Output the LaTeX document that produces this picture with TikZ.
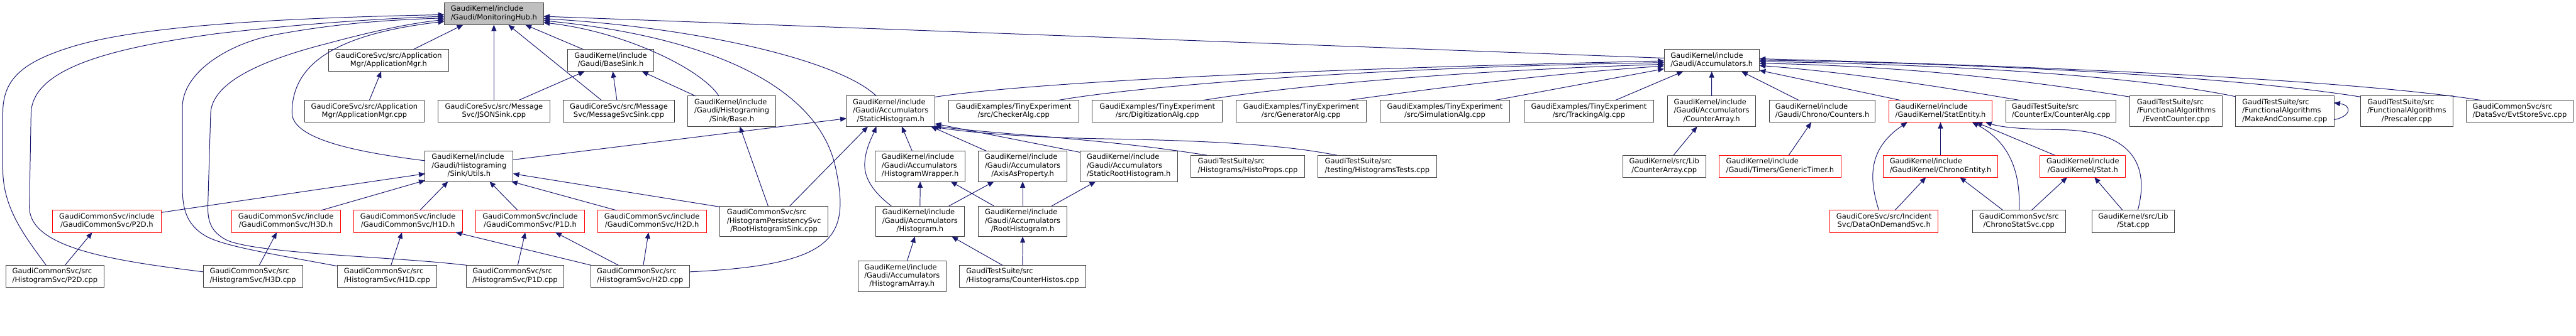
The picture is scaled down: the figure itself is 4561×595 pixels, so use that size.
\documentclass[tikz,border=0pt]{standalone}
\usepackage{fontspec}
\setmainfont{DejaVu Sans}
\usetikzlibrary{arrows.meta,calc}
\definecolor{edgecol}{HTML}{191970}
\definecolor{boxcol}{HTML}{404040}
\definecolor{rootfill}{HTML}{BFBFBF}
\definecolor{redcol}{HTML}{FF0000}
\newcommand\lab[2]{\begin{tabular}{@{}l@{}}#1\\\multicolumn{1}{@{}c@{}}{#2}\end{tabular}}
\tikzset{
 nbox/.style={draw=boxcol, line width=1.1pt, fill=white, inner sep=0pt, outer sep=0pt, font=\fontsize{12.8}{15}\selectfont, text=black},
 redbox/.style={nbox, draw=redcol},
 rootbox/.style={nbox, fill=rootfill},
 conn/.style={draw=edgecol, line width=1.1pt, -{Triangle[length=11pt,width=9pt]}},
}
\newcommand\nd[6]{\node[#1,minimum width=#4pt,minimum height=#5pt] (#2) at (#3) {#6};}
\begin{document}
\begin{tikzpicture}[x=1pt,y=-1pt]
\useasboundingbox (0,0) rectangle (4561,595);
% ---- nodes
\nd{rootbox}{root}{874.5,24.5}{175.6}{39}{\lab{GaudiKernel/include}{/Gaudi/MonitoringHub.h}}
\nd{nbox}{appmgrh}{688,107.2}{212.6}{39}{\lab{GaudiCoreSvc/src/Application}{Mgr/ApplicationMgr.h}}
\nd{nbox}{appmgrcpp}{645.2,197.3}{212.3}{39}{\lab{GaudiCoreSvc/src/Application}{Mgr/ApplicationMgr.cpp}}
\nd{nbox}{jsonsink}{874.5,197.3}{197.6}{39}{\lab{GaudiCoreSvc/src/Message}{Svc/JSONSink.cpp}}
\nd{nbox}{basesink}{1081.3,107.2}{152}{39}{\lab{GaudiKernel/include}{/Gaudi/BaseSink.h}}
\nd{nbox}{msgsink}{1095.7,197.3}{197.3}{39}{\lab{GaudiCoreSvc/src/Message}{Svc/MessageSvcSink.cpp}}
\nd{nbox}{utils}{830.5,294.8}{155.6}{54}{\lab{GaudiKernel/include\\/Gaudi/Histograming}{/Sink/Utils.h}}
\nd{nbox}{sinkbase}{1295.7,197.3}{155.3}{54}{\lab{GaudiKernel/include\\/Gaudi/Histograming}{/Sink/Base.h}}
\nd{nbox}{statichist}{1577,197.3}{156.6}{54}{\lab{GaudiKernel/include\\/Gaudi/Accumulators}{/StaticHistogram.h}}
\nd{redbox}{p2dh}{189.2,392.5}{193}{39}{\lab{GaudiCommonSvc/include}{/GaudiCommonSvc/P2D.h}}
\nd{redbox}{h3dh}{506.3,392.5}{192.7}{39}{\lab{GaudiCommonSvc/include}{/GaudiCommonSvc/H3D.h}}
\nd{redbox}{h1dh}{722.3,392.5}{192.7}{39}{\lab{GaudiCommonSvc/include}{/GaudiCommonSvc/H1D.h}}
\nd{redbox}{p1dh}{938.7,392.5}{192.7}{39}{\lab{GaudiCommonSvc/include}{/GaudiCommonSvc/P1D.h}}
\nd{redbox}{h2dh}{1154.3,392.5}{192.7}{39}{\lab{GaudiCommonSvc/include}{/GaudiCommonSvc/H2D.h}}
\nd{nbox}{p2dcpp}{97.3,489.8}{173.3}{39}{\lab{GaudiCommonSvc/src}{/HistogramSvc/P2D.cpp}}
\nd{nbox}{h3dcpp}{447.8,489.8}{175.7}{39}{\lab{GaudiCommonSvc/src}{/HistogramSvc/H3D.cpp}}
\nd{nbox}{h1dcpp}{685.3,489.8}{176}{39}{\lab{GaudiCommonSvc/src}{/HistogramSvc/H1D.cpp}}
\nd{nbox}{p1dcpp}{912,489.8}{173.4}{39}{\lab{GaudiCommonSvc/src}{/HistogramSvc/P1D.cpp}}
\nd{nbox}{h2dcpp}{1133.3,489.8}{175.3}{39}{\lab{GaudiCommonSvc/src}{/HistogramSvc/H2D.cpp}}
\nd{nbox}{rootsink}{1370.3,392.3}{191.3}{54}{\lab{GaudiCommonSvc/src\\/HistogramPersistencySvc}{/RootHistogramSink.cpp}}
\nd{nbox}{histarray}{1597.2,489.7}{156.3}{54}{\lab{GaudiKernel/include\\/Gaudi/Accumulators}{/HistogramArray.h}}
\nd{nbox}{checker}{1794.7,197.3}{230.7}{39}{\lab{GaudiExamples/TinyExperiment}{/src/CheckerAlg.cpp}}
\nd{nbox}{histwrapper}{1629.2,294.8}{159.7}{54}{\lab{GaudiKernel/include\\/Gaudi/Accumulators}{/HistogramWrapper.h}}
\nd{nbox}{axisprop}{1810.7,294.8}{156.7}{54}{\lab{GaudiKernel/include\\/Gaudi/Accumulators}{/AxisAsProperty.h}}
\nd{nbox}{histogram}{1629,392.3}{156.6}{54}{\lab{GaudiKernel/include\\/Gaudi/Accumulators}{/Histogram.h}}
\nd{nbox}{roothist}{1810.7,392.3}{156.7}{54}{\lab{GaudiKernel/include\\/Gaudi/Accumulators}{/RootHistogram.h}}
\nd{nbox}{counterhistos}{1810.5,489.8}{223.6}{39}{\lab{GaudiTestSuite/src}{/Histograms/CounterHistos.cpp}}
\nd{nbox}{staticroothist}{1998.5,294.8}{172.4}{54}{\lab{GaudiKernel/include\\/Gaudi/Accumulators}{/StaticRootHistogram.h}}
\nd{nbox}{histoprops}{2209.3,294.8}{202}{39}{\lab{GaudiTestSuite/src}{/Histograms/HistoProps.cpp}}
\nd{nbox}{digitization}{2049.2,197.3}{230.3}{39}{\lab{GaudiExamples/TinyExperiment}{/src/DigitizationAlg.cpp}}
\nd{nbox}{generator}{2303.7,197.3}{230.7}{39}{\lab{GaudiExamples/TinyExperiment}{/src/GeneratorAlg.cpp}}
\nd{nbox}{histtests}{2438.5,294.8}{209.6}{39}{\lab{GaudiTestSuite/src}{/testing/HistogramsTests.cpp}}
\nd{nbox}{simulation}{2558.3,197.3}{230}{39}{\lab{GaudiExamples/TinyExperiment}{/src/SimulationAlg.cpp}}
\nd{nbox}{tracking}{2813.2,197.3}{230.3}{39}{\lab{GaudiExamples/TinyExperiment}{/src/TrackingAlg.cpp}}
\nd{nbox}{accum}{3030.7,107.2}{168.7}{39}{\lab{GaudiKernel/include}{/Gaudi/Accumulators.h}}
\nd{nbox}{counterarrayh}{3030.5,197.3}{156.4}{54}{\lab{GaudiKernel/include\\/Gaudi/Accumulators}{/CounterArray.h}}
\nd{nbox}{counterarraycpp}{2946.7,294.8}{146.7}{39}{\lab{GaudiKernel/src/Lib}{/CounterArray.cpp}}
\nd{nbox}{counters}{3226.5,197.3}{187.6}{39}{\lab{GaudiKernel/include}{/Gaudi/Chrono/Counters.h}}
\nd{redbox}{generictimer}{3151.7,294.8}{216}{39}{\lab{GaudiKernel/include}{/Gaudi/Timers/GenericTimer.h}}
\nd{redbox}{statentity}{3435.8,197.3}{183}{39}{\lab{GaudiKernel/include}{/GaudiKernel/StatEntity.h}}
\nd{redbox}{chronoentity}{3435.8,294.8}{203}{39}{\lab{GaudiKernel/include}{/GaudiKernel/ChronoEntity.h}}
\nd{redbox}{dataondemand}{3335.8,392.5}{191.7}{39}{\lab{GaudiCoreSvc/src/Incident}{Svc/DataOnDemandSvc.h}}
\nd{nbox}{counteralg}{3649.3,197.3}{195.3}{39}{\lab{GaudiTestSuite/src}{/CounterEx/CounterAlg.cpp}}
\nd{nbox}{eventcounter}{3853.2,197.3}{163.7}{54}{\lab{GaudiTestSuite/src\\/FunctionalAlgorithms}{/EventCounter.cpp}}
\nd{redbox}{stath}{3687.8,294.8}{151.7}{39}{\lab{GaudiKernel/include}{/GaudiKernel/Stat.h}}
\nd{nbox}{chronostatsvc}{3574.7,392.5}{164.7}{39}{\lab{GaudiCommonSvc/src}{/ChronoStatSvc.cpp}}
\nd{nbox}{statcpp}{3777,392.5}{146.6}{39}{\lab{GaudiKernel/src/Lib}{/Stat.cpp}}
\nd{nbox}{makeconsume}{4045.3,197.3}{174}{54}{\lab{GaudiTestSuite/src\\/FunctionalAlgorithms}{/MakeAndConsume.cpp}}
\nd{nbox}{prescaler}{4261.3,197.3}{163.3}{54}{\lab{GaudiTestSuite/src\\/FunctionalAlgorithms}{/Prescaler.cpp}}
\nd{nbox}{evtstore}{4461.3,197.3}{188.7}{39}{\lab{GaudiCommonSvc/src}{/DataSvc/EvtStoreSvc.cpp}}
% ---- edges into MonitoringHub.h
\draw[conn] ($(appmgrh.north)+(43.7,0)$) -- ($(root.south)+(-54.5,0)$);
\draw[conn] (jsonsink.north) -- (root.south);
\draw[conn] ($(msgsink.north)+(-30.7,0)$) -- ($(root.south)+(25.5,0)$);
\draw[conn] ($(basesink.north)+(-48.3,0)$) -- ($(root.south)+(55.5,0)$);
\draw[conn] ($(sinkbase.north)+(-22.7,0)$) .. controls (1240,120) and (1100,55) .. ($(root.east)+(0,15.5)$);
\draw[conn] ($(statichist.north)+(-25.3,0)$) .. controls (1490,110) and (1250,50) .. ($(root.east)+(0,8.5)$);
\draw[conn] ($(accum.west)+(0,-4.2)$) -- ($(root.east)+(0,4.5)$);
\draw[conn] ($(h2dcpp.east)+(0,-7.8)$) .. controls (1480,470) and (1505,420) .. (1480,300) .. controls (1450,150) and (1250,65) .. ($(root.east)+(0,12)$);
\draw[conn] ($(p2dcpp.north)+(-15.6,0)$) .. controls (45,420) and (5,370) .. (5,300) -- (5,200) .. controls (5,140) and (40,110) .. (127,83) .. controls (250,45) and (500,32) .. ($(root.west)+(0,1.5)$);
\draw[conn] ($(h3dcpp.west)+(0,-7.8)$) .. controls (200,462) and (52,440) .. (52,367) -- (55,200) .. controls (58,120) and (200,85) .. (381,60) .. controls (550,40) and (700,32) .. ($(root.west)+(0,4.5)$);
\draw[conn] ($(h1dcpp.north west)+(0,1.5)$) .. controls (480,450) and (400,437) .. (367,420) .. controls (330,400) and (323,370) .. (323,333) -- (323,190) .. controls (323,130) and (400,80) .. (480,63) .. controls (600,40) and (700,35) .. ($(root.west)+(0,7.5)$);
\draw[conn] ($(p1dcpp.north west)+(1,0)$) .. controls (700,455) and (450,450) .. (400,425) .. controls (372,410) and (368,390) .. (368,367) -- (373,200) .. controls (376,150) and (450,110) .. (580,77) .. controls (650,58) and (720,42) .. ($(root.west)+(0,10.5)$);
\draw[conn] ($(utils.west)+(0,-9.8)$) .. controls (650,272) and (517,250) .. (517,200) .. controls (517,110) and (600,60) .. ($(root.west)+(0,13.5)$);
% ---- sinks
\draw[conn] ($(appmgrcpp.north)+(8.8,0)$) -- ($(appmgrh.south)+(-13,0)$);
\draw[conn] ($(jsonsink.north)+(43.8,0)$) -- ($(basesink.south)+(-46.3,0)$);
\draw[conn] ($(msgsink.north)+(-3.4,0)$) -- ($(basesink.south)+(3.7,0)$);
\draw[conn] ($(sinkbase.north)+(-64,0)$) -- ($(basesink.south)+(55.4,0)$);
% ---- Utils.h
\draw[conn] ($(p2dh.east)+(0,-15.8)$) -- ($(utils.west)+(0,13.2)$);
\draw[conn] ($(h3dh.north)+(62,0)$) -- ($(utils.west)+(0,25)$);
\draw[conn] ($(h1dh.north)+(21,0)$) -- ($(utils.south)+(-37.2,0)$);
\draw[conn] ($(p1dh.north)+(-22,0)$) -- ($(utils.south)+(36.2,0)$);
\draw[conn] ($(h2dh.north)+(-62.6,0)$) -- ($(utils.south east)+(-3,0)$);
\draw[conn] ($(rootsink.north west)+(0,1.5)$) -- ($(utils.east)+(0,13.2)$);
% ---- StaticHistogram.h
\draw[conn] ($(utils.east)+(0,-11.5)$) -- ($(statichist.west)+(0,12.7)$);
\draw[conn] ($(rootsink.north)+(28,0)$) -- ($(statichist.south)+(-40.3,0)$);
\draw[conn] ($(rootsink.north)+(-10.3,0)$) -- ($(sinkbase.south)+(14.3,0)$);
\draw[conn] ($(histogram.north)+(-50.7,0)$) .. controls (1545,340) and (1530,315) .. (1531,290) .. controls (1532,265) and (1543,245) .. ($(statichist.south)+(-25.3,0)$);
\draw[conn] ($(histwrapper.north)+(-14.2,0)$) -- ($(statichist.south)+(19.7,0)$);
\draw[conn] ($(axisprop.north)+(-64,0)$) -- ($(statichist.south)+(71.3,0)$);
\draw[conn] ($(staticroothist.west)+(0,-24.8)$) -- ($(statichist.east)+(0,22)$);
\draw[conn] ($(histoprops.north)+(-72.3,0)$) .. controls (1950,245) and (1760,238) .. ($(statichist.south east)+(0,-1)$);
\draw[conn] ($(histtests.north)+(-71.5,0)$) .. controls (2300,262) and (2200,250) .. (1950,246) .. controls (1800,243) and (1700,233) .. ($(statichist.south east)+(-4,0)$);
% ---- Accumulators.h
\draw[conn] ($(statichist.east)+(0,-25.3)$) .. controls (1800,150) and (2200,125) .. ($(accum.west)+(0,0.8)$);
\draw[conn] ($(checker.north)+(78.6,0)$) .. controls (2000,155) and (2400,120) .. ($(accum.west)+(0,3.8)$);
\draw[conn] ($(digitization.north)+(80.8,0)$) .. controls (2300,150) and (2600,125) .. ($(accum.west)+(0,6.8)$);
\draw[conn] ($(generator.north)+(83,0)$) .. controls (2550,155) and (2750,130) .. ($(accum.west)+(0,9.8)$);
\draw[conn] ($(simulation.north)+(88.4,0)$) -- ($(accum.west)+(0,14.8)$);
\draw[conn] ($(tracking.north)+(46.8,0)$) -- ($(accum.south)+(-50.7,0)$);
\draw[conn] (counterarrayh.north) -- (accum.south);
\draw[conn] ($(counters.north)+(-41.5,0)$) -- ($(accum.south)+(52.6,0)$);
\draw[conn] ($(statentity.north)+(-70.8,0)$) -- ($(accum.south east)+(0,-2)$);
\draw[conn] ($(counteralg.north)+(-72.6,0)$) .. controls (3500,165) and (3300,130) .. ($(accum.east)+(0,9)$);
\draw[conn] ($(eventcounter.north west)+(0,1.5)$) .. controls (3600,145) and (3400,118) .. ($(accum.east)+(0,5)$);
\draw[conn] ($(makeconsume.north west)+(0,1)$) .. controls (3800,138) and (3500,115) .. ($(accum.east)+(0,2)$);
\draw[conn] ($(prescaler.north west)+(0,1.5)$) .. controls (3950,135) and (3500,112) .. ($(accum.east)+(0,-0.5)$);
\draw[conn] ($(evtstore.north)+(-68.3,0)$) .. controls (4250,155) and (3900,125) .. ($(accum.east)+(0,-3)$);
% ---- right part
\draw[conn] ($(counterarraycpp.north)+(16.3,0)$) -- ($(counterarrayh.south)+(-25.5,0)$);
\draw[conn] ($(generictimer.north)+(15.3,0)$) -- ($(counters.south)+(-19.5,0)$);
\draw[conn] (chronoentity.north) -- (statentity.south);
\draw[conn] ($(dataondemand.north)+(-9.1,0)$) .. controls (3310,320) and (3305,265) .. ($(statentity.south)+(-58.8,0)$);
\draw[conn] ($(chronostatsvc.north)+(0.3,0)$) .. controls (3578,300) and (3555,250) .. ($(statentity.south)+(56,0)$);
\draw[conn] ($(stath.north)+(-49.5,0)$) -- ($(statentity.south)+(63,0)$);
\draw[conn] ($(statcpp.north)+(8,0)$) .. controls (3810,280) and (3760,232) .. (3650,230) .. controls (3580,229) and (3545,226) .. ($(statentity.south east)+(-12,0)$);
\draw[conn] ($(dataondemand.north)+(19.2,0)$) -- ($(chronoentity.south)+(-25.8,0)$);
\draw[conn] ($(chronostatsvc.north)+(-28,0)$) -- ($(chronoentity.south)+(34.2,0)$);
\draw[conn] ($(chronostatsvc.north)+(22,0)$) -- ($(stath.south)+(-27.8,0)$);
\draw[conn] ($(statcpp.north)+(-18.7,0)$) -- ($(stath.south)+(20.5,0)$);
\draw[conn] ($(makeconsume.east)+(0,15)$) .. controls (4162,207) and (4166,187) .. ($(makeconsume.east)+(0,-15)$);
% ---- HistogramSvc headers
\draw[conn] ($(p2dcpp.north)+(17.7,0)$) -- ($(p2dh.south)+(-25.9,0)$);
\draw[conn] ($(h3dcpp.north)+(11.2,0)$) -- ($(h3dh.south)+(-16.3,0)$);
\draw[conn] ($(h1dcpp.north)+(7,0)$) -- ($(h1dh.south)+(-10.6,0)$);
\draw[conn] ($(p1dcpp.north)+(4.7,0)$) -- ($(p1dh.south)+(-8.7,0)$);
\draw[conn] ($(h2dcpp.north)+(-38.3,0)$) -- ($(p1dh.south)+(44.6,0)$);
\draw[conn] ($(h2dcpp.north west)+(1,0)$) -- ($(h1dh.south)+(84.4,0)$);
\draw[conn] ($(h2dcpp.north)+(5.7,0)$) -- ($(h2dh.south)+(-6,0)$);
% ---- accumulators histograms
\draw[conn] (histogram.north) -- (histwrapper.south);
\draw[conn] ($(roothist.north)+(-50.7,0)$) -- ($(histwrapper.south)+(54.1,0)$);
\draw[conn] ($(histogram.north)+(51,0)$) -- ($(axisprop.south)+(-50.7,0)$);
\draw[conn] (roothist.north) -- (axisprop.south);
\draw[conn] ($(histarray.north)+(8.8,0)$) -- ($(histogram.south)+(-9,0)$);
\draw[conn] ($(counterhistos.north)+(-35.5,0)$) -- ($(histogram.south)+(56,0)$);
\draw[conn] (counterhistos.north) -- (roothist.south);
\draw[conn] ($(roothist.north)+(51.3,0)$) -- ($(staticroothist.south)+(-58.5,0)$);
\end{tikzpicture}
\end{document}
